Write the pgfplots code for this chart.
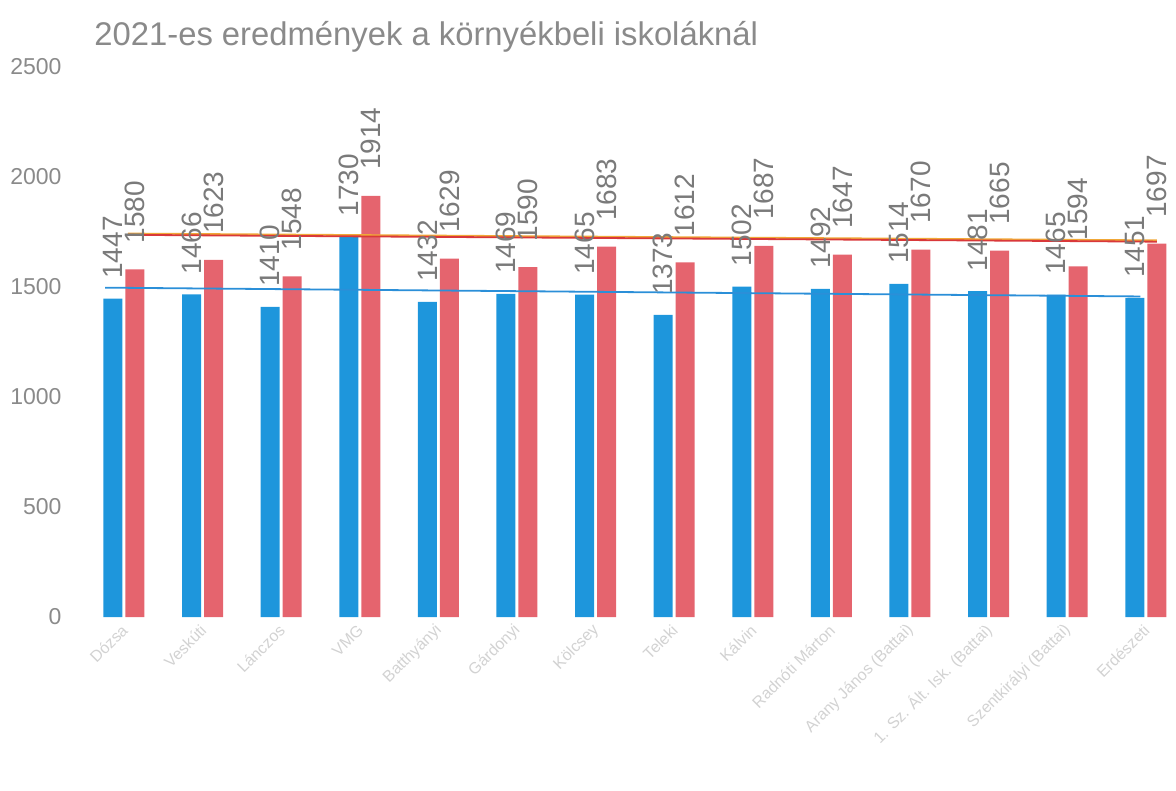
\documentclass[border=0pt]{standalone}
\usepackage{fontspec}
\setmainfont{Liberation Sans}
\usepackage{pgfplots}
\pgfplotsset{compat=1.18}
\definecolor{cblue}{HTML}{1E96DC}
\definecolor{cred}{HTML}{E5646E}
\definecolor{lblue}{HTML}{2B8FD8}
\definecolor{lred}{HTML}{D9383A}
\definecolor{lorange}{HTML}{F0A838}
\definecolor{tgray}{HTML}{8A8A8A}
\definecolor{dgray}{HTML}{7A7A7A}
\definecolor{xgray}{HTML}{D2D2D2}
\begin{document}
\begin{tikzpicture}
\useasboundingbox (0,0) rectangle (588pt,395.5pt);
\node[anchor=west, text=tgray, font=\fontsize{16.4}{19}\selectfont, inner sep=0pt] at (47pt,377pt) {2021-es eredmények a környékbeli iskoláknál};
\begin{axis}[
  at={(44.3pt,87pt)}, anchor=south west,
  scale only axis, width=542.35pt, height=275pt,
  xmin=-0.45, xmax=13.35, ymin=0, ymax=2500,
  axis line style={draw=none},
  major tick length=0pt,
  ytick={0,500,1000,1500,2000,2500},
  yticklabel style={text=tgray, font=\fontsize{11.5}{13}\selectfont, xshift=-10pt},
  /pgf/number format/assume math mode=true,
  /pgf/number format/1000 sep={},
  xtick={0,...,13},
  xticklabels={Dózsa, Veskúti, Lánczos, VMG, Batthyányi, Gárdonyi, Kölcsey, Teleki, Kálvin, Radnóti Márton, Arany János (Battai), 1. Sz. Ált. Isk. (Battai), Szentkirályi (Battai), Erdészeti},
  xticklabel style={rotate=45, anchor=east, text=xgray, font=\fontsize{8}{10}\selectfont, yshift=-4pt},
  ybar, bar width=9.5pt,
  clip=false,
]
\addplot[draw=none, fill=cblue, bar shift=-5.5pt,
  nodes near coords, every node near coord/.append style={rotate=90, anchor=west, text=dgray, font=\fontsize{14}{16}\selectfont, inner xsep=0pt, outer xsep=0pt, xshift=10pt}]
coordinates {(0,1447) (1,1466) (2,1410) (3,1730) (4,1432) (5,1469) (6,1465) (7,1373) (8,1502) (9,1492) (10,1514) (11,1481) (12,1465) (13,1451)};
\addplot[draw=none, fill=cred, bar shift=5.5pt,
  nodes near coords, every node near coord/.append style={rotate=90, anchor=west, text=dgray, font=\fontsize{14}{16}\selectfont, inner xsep=0pt, outer xsep=0pt, xshift=13pt}]
coordinates {(0,1580) (1,1623) (2,1548) (3,1914) (4,1629) (5,1590) (6,1683) (7,1612) (8,1687) (9,1647) (10,1670) (11,1665) (12,1594) (13,1697)};
\addplot[sharp plot, lblue, line width=0.9pt] coordinates {(-0.24,1497) (12.93,1457)};
\addplot[sharp plot, lorange, line width=0.9pt] coordinates {(0.05,1743) (13.14,1712)};
\addplot[sharp plot, lred, line width=0.9pt] coordinates {(0.05,1737) (13.14,1706)};
\end{axis}
\end{tikzpicture}
\end{document}
